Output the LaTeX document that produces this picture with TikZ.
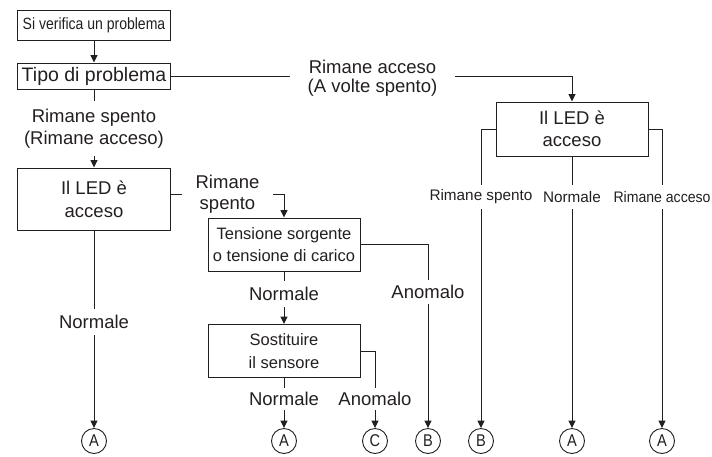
\documentclass[tikz,border=0pt]{standalone}
\usepackage{fontspec}
\setmainfont{Liberation Sans}
\newfontfamily\condfont{Liberation Sans}[FakeStretch=0.86]
\newfontfamily\semicond{Liberation Sans}[FakeStretch=0.92]
\usetikzlibrary{arrows.meta}
\definecolor{ink}{HTML}{231F20}
\begin{document}
\begin{tikzpicture}[x=1pt,y=-1pt,
  every node/.style={text=ink},
  box/.style={draw=ink, line width=1pt, inner sep=0pt, align=center, minimum width=153pt},
  lbl/.style={inner sep=0pt, align=center},
  big/.style={font=\fontsize{18.5}{22}\selectfont},
  mid/.style={font=\fontsize{16.5}{22.5}\selectfont},
  small/.style={font=\fontsize{15.3}{18}\selectfont},
  endc/.style={draw=ink, line width=0.9pt, circle, inner sep=0pt, minimum size=25pt, font=\condfont\fontsize{17}{17}\selectfont},
  conn/.style={draw=ink, line width=1pt},
  arr/.style={conn, -{Triangle[length=7.5pt,width=7pt]}}
]
\useasboundingbox (0,0) rectangle (712,456);

% boxes
\node[box, minimum height=30pt, font=\condfont\fontsize{16.3}{20}\selectfont] (b1) at (94,25) {Si verifica un problema};
\node[box, minimum height=26pt, font=\fontsize{19.5}{22}\selectfont] (b2) at (94,76) {Tipo di problema};
\node[box, minimum height=62pt, font=\fontsize{18.5}{23}\selectfont] (b3) at (94,199) {Il LED è\\acceso};
\node[box, minimum width=152pt, minimum height=53pt, mid] (b4) at (284,244.5) {Tensione sorgente\\o tensione di carico};
\node[box, minimum width=152pt, minimum height=53pt, mid] (b5) at (284,351) {Sostituire\\il sensore};
\node[box, minimum width=152pt, minimum height=54pt, big] (b6) at (572,129) {Il LED è\\acceso};

% labels
\node[lbl, font=\fontsize{18.5}{19}\selectfont, minimum width=165pt] (lt) at (372.5,78.5) {Rimane acceso\\(A volte spento)};
\node[lbl, font=\fontsize{18.5}{21.5}\selectfont, minimum height=54pt] (ll) at (94,128.5) {Rimane spento\\(Rimane acceso)};
\node[lbl, font=\fontsize{18.5}{21}\selectfont, minimum width=91pt] (lm) at (227.5,194.5) {Rimane\\spento};
\node[lbl, big, minimum height=26pt] (ln0) at (94,322) {Normale};
\node[lbl, big, minimum height=26pt] (ln1) at (284,294) {Normale};
\node[lbl, big, minimum height=24pt] (la1) at (428,292) {Anomalo};
\node[lbl, big, minimum height=22pt] (ln2) at (284,399) {Normale};
\node[lbl, big, minimum height=22pt] (la2) at (375,399) {Anomalo};
\node[lbl, small, minimum height=24pt] (lr1) at (481,197) {Rimane spento};
\node[lbl, small, minimum height=24pt] (lr2) at (572,197) {Normale};
\node[lbl, font=\semicond\fontsize{15.3}{18}\selectfont, minimum height=24pt] (lr3) at (662,197) {Rimane acceso};

% end circles
\node[endc] (cA1) at (94,441) {A};
\node[endc] (cA2) at (284,441) {A};
\node[endc] (cC) at (375,441) {C};
\node[endc] (cB1) at (428,441) {B};
\node[endc] (cB2) at (481,441) {B};
\node[endc] (cA3) at (572,441) {A};
\node[endc] (cA4) at (662,441) {A};

% connectors
\draw[arr] (b1.south) -- (b2.north);
\draw[conn] (b2.east) -- (b2.east -| lt.west);
\draw[arr] (lt.east |- b2.east) -| (b6.north);
\draw[conn] (b2.south) -- (ll.north);
\draw[arr] (ll.south) -- (b3.north);
\draw[conn] (b3.east |- lm.west) -- (lm.west);
\draw[arr] (lm.east) -| (b4.north);
\draw[conn] (b3.south) -- (ln0.north);
\draw[arr] (ln0.south) -- (cA1.north);
\draw[conn] (b4.south) -- (ln1.north);
\draw[arr] (ln1.south) -- (b5.north);
\draw[conn] (b4.east) -| (la1.north);
\draw[arr] (la1.south) -- (cB1.north);
\draw[conn] (b5.south) -- (ln2.north);
\draw[arr] (ln2.south) -- (cA2.north);
\draw[conn] (b5.east) -| (la2.north);
\draw[arr] (la2.south) -- (cC.north);
\draw[conn] (b6.west) -| (lr1.north);
\draw[arr] (lr1.south) -- (cB2.north);
\draw[conn] (b6.south) -- (lr2.north);
\draw[arr] (lr2.south) -- (cA3.north);
\draw[conn] (b6.east) -| (lr3.north);
\draw[arr] (lr3.south) -- (cA4.north);
\end{tikzpicture}
\end{document}
